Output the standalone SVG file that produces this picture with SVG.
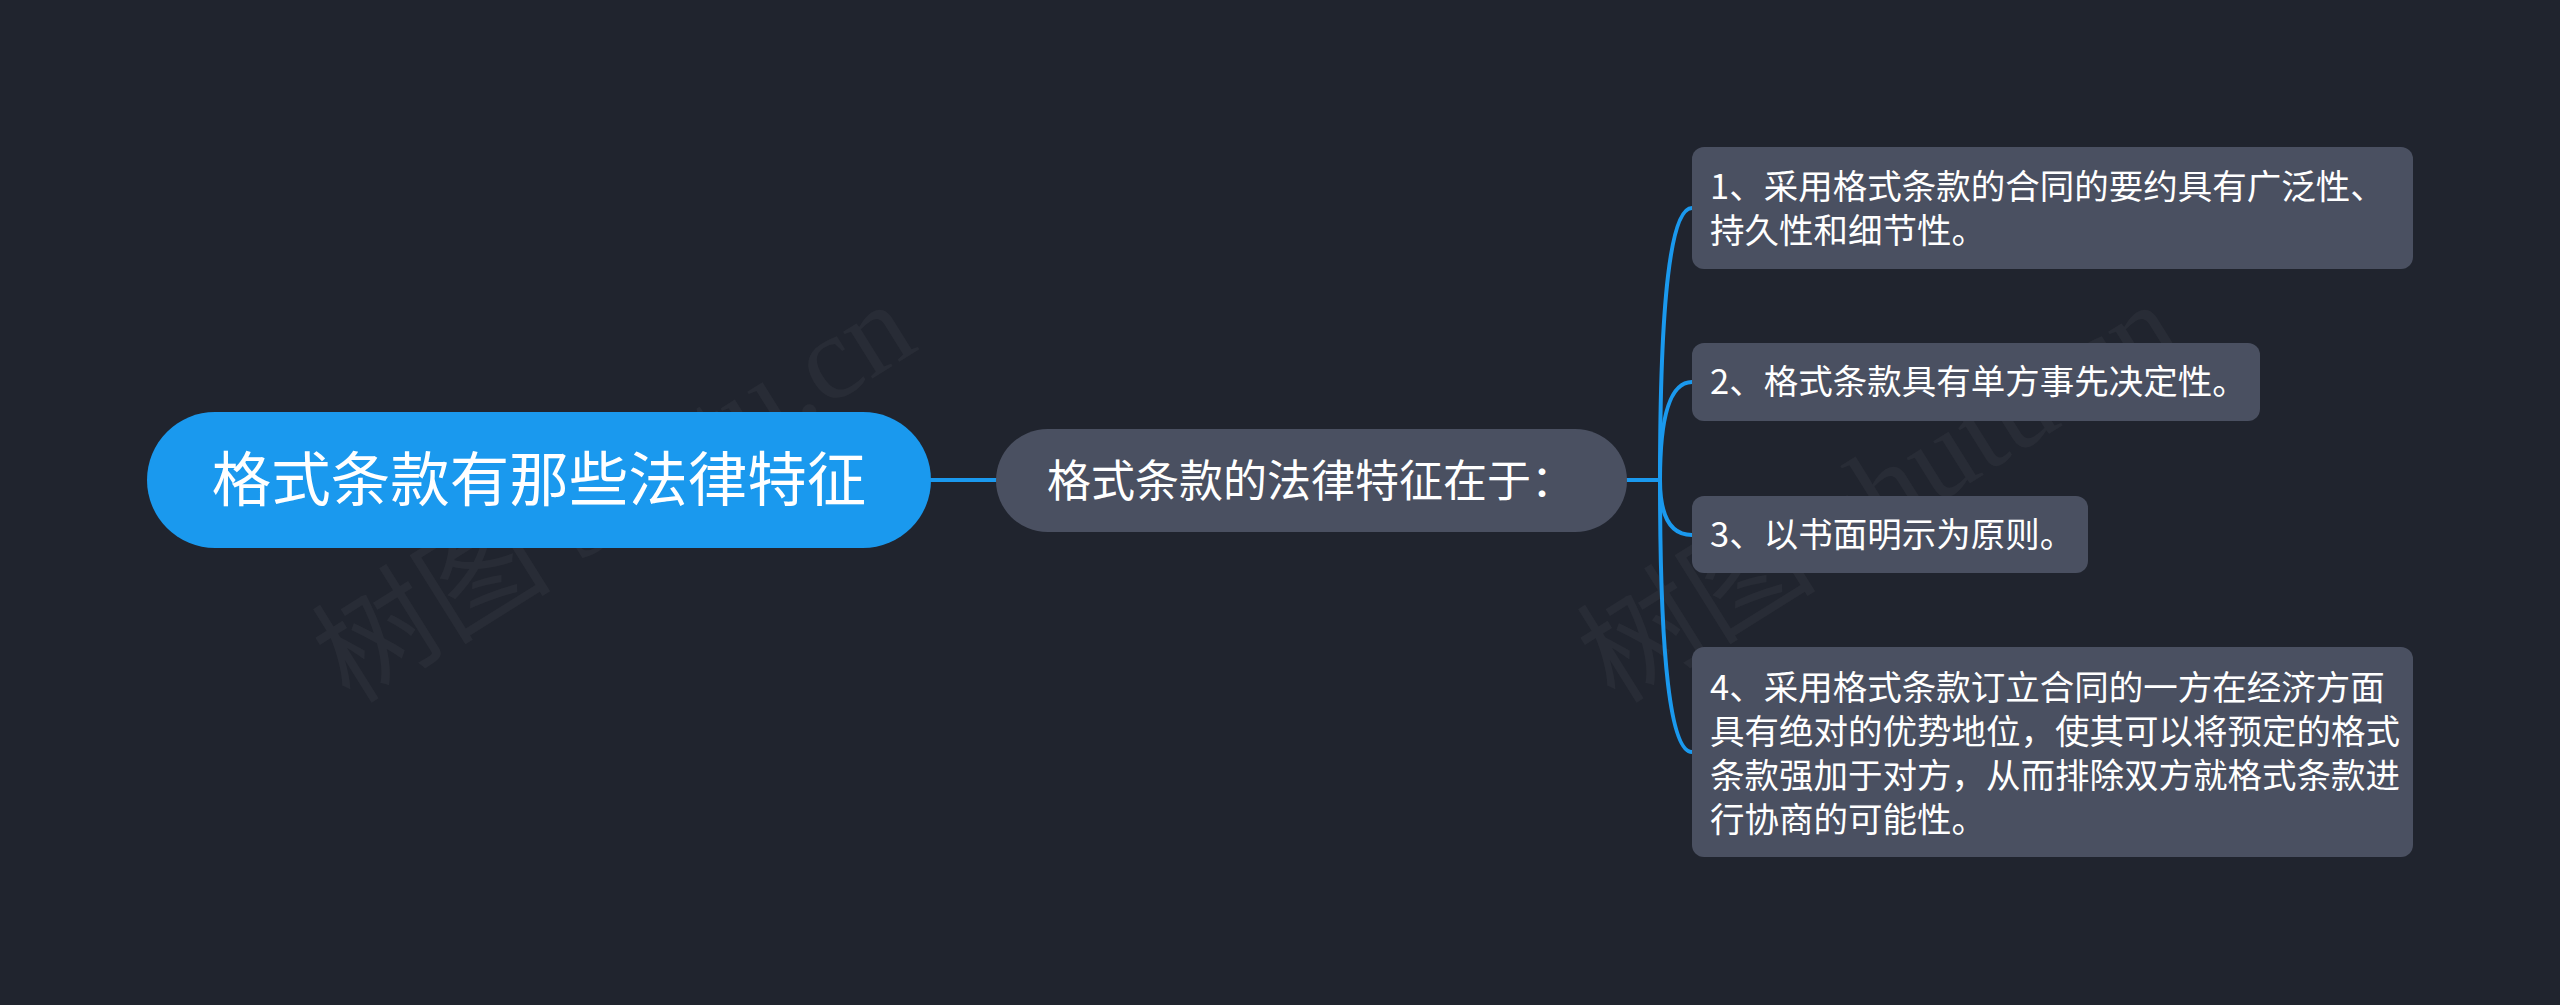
<svg xmlns="http://www.w3.org/2000/svg" width="2560" height="1005" viewBox="0 0 2560 1005">
  <defs>
    <style>
      .bg { fill: #20242e; }
      .root { fill: #1a99ee; }
      .node { fill: #4a5061; }
      .t { fill: #ffffff; font-family: "Noto Sans CJK SC", "Noto Sans", sans-serif; }
      .root-t { font-size: 59.5px; }
      .main-t { font-size: 44px; }
      .leaf-t { font-size: 34.5px; }
      .link { fill: none; stroke: #1a99ee; stroke-width: 4; stroke-linecap: round; }
      .wm { fill: #ffffff; fill-opacity: 0.04; font-family: "Liberation Serif", "Noto Sans CJK SC", serif; font-size: 120px; }
    </style>
  </defs>
  <rect class="bg" x="0" y="0" width="2560" height="1005"/>

  <g id="watermarks">
    <text class="wm" transform="translate(350 705) rotate(-32)">树图 shutu.cn</text>
    <text class="wm" transform="translate(1615 705) rotate(-32)">树图 shutu.cn</text>
  </g>

  <g id="connectors">
    <path class="link" d="M931 480 H996"/>
    <path class="link" d="M1627 480 H1660"/>
    <path class="link" d="M1660 480 Q1660 208 1692 208"/>
    <path class="link" d="M1660 480 Q1660 382 1692 382"/>
    <path class="link" d="M1660 480 Q1660 535 1692 535"/>
    <path class="link" d="M1660 480 Q1660 752 1692 752"/>
  </g>

  <g id="root">
    <rect class="root" x="147" y="412" width="784" height="136" rx="68" ry="68"/>
    <text class="t root-t" x="539" y="501" text-anchor="middle">格式条款有那些法律特征</text>
  </g>

  <g id="main">
    <rect class="node" x="996" y="429" width="631" height="103" rx="51.5" ry="51.5"/>
    <text class="t main-t" x="1047" y="497">格式条款的法律特征在于：</text>
  </g>

  <g id="leaf1">
    <rect class="node" x="1692" y="147" width="721" height="122" rx="12" ry="12"/>
    <text class="t leaf-t" x="1710" y="199">1、采用格式条款的合同的要约具有广泛性、</text>
    <text class="t leaf-t" x="1710" y="243">持久性和细节性。</text>
  </g>

  <g id="leaf2">
    <rect class="node" x="1692" y="343" width="568" height="78" rx="12" ry="12"/>
    <text class="t leaf-t" x="1710" y="394">2、格式条款具有单方事先决定性。</text>
  </g>

  <g id="leaf3">
    <rect class="node" x="1692" y="496" width="396" height="77" rx="12" ry="12"/>
    <text class="t leaf-t" x="1710" y="547">3、以书面明示为原则。</text>
  </g>

  <g id="leaf4">
    <rect class="node" x="1692" y="647" width="721" height="210" rx="12" ry="12"/>
    <text class="t leaf-t" x="1710" y="700">4、采用格式条款订立合同的一方在经济方面</text>
    <text class="t leaf-t" x="1710" y="744">具有绝对的优势地位，使其可以将预定的格式</text>
    <text class="t leaf-t" x="1710" y="788">条款强加于对方，从而排除双方就格式条款进</text>
    <text class="t leaf-t" x="1710" y="832">行协商的可能性。</text>
  </g>
</svg>
